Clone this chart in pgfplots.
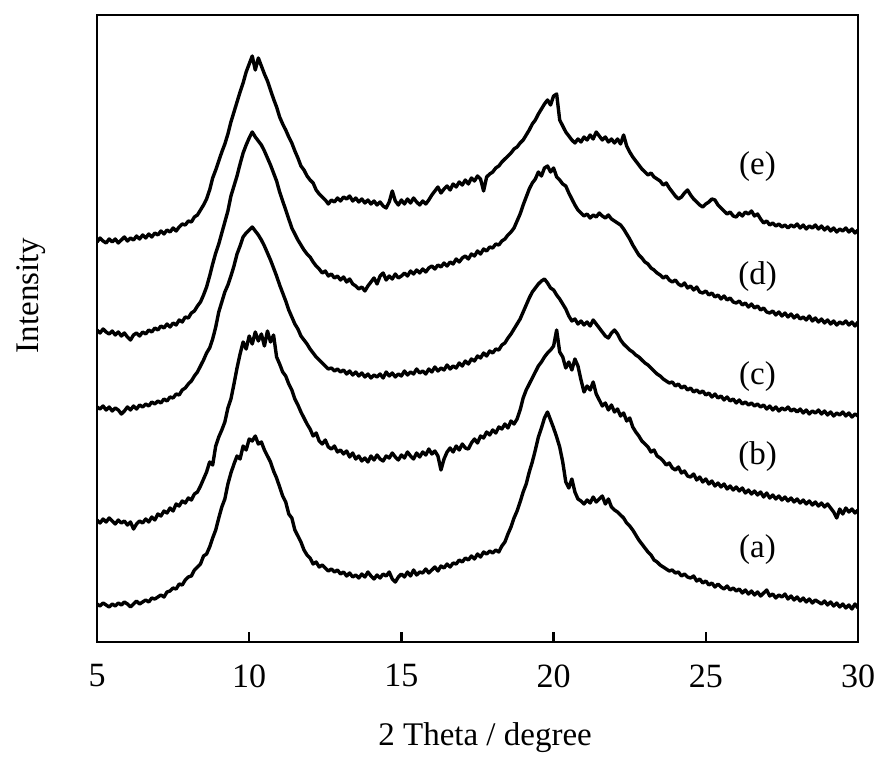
\documentclass[border=0pt]{standalone}
\usepackage{fontspec}
\setmainfont{Liberation Serif}
\usepackage{pgfplots}
\pgfplotsset{compat=1.18}
\pgfplotsset{xrd/.style={black, line width=3.4pt, line join=round, mark=none}}
\begin{document}
\fontsize{34}{40}\selectfont
\begin{tikzpicture}
\begin{axis}[
  scale only axis, width=761pt, height=627pt,
  xmin=5, xmax=30, ymin=0, ymax=627,
  xtick={5,10,15,20,25,30}, ytick=\empty,
  xtick pos=bottom, tick align=inside, major tick length=10pt,
  axis line style={line width=2.5pt},
  every tick/.style={line width=2.5pt, black},
  /pgf/number format/assume math mode=true,
  xticklabel style={font=\fontsize{34}{40}\selectfont, yshift=-11pt},
  xlabel={2 Theta / degree},
  ylabel={Intensity},
  xlabel style={font=\fontsize{33}{40}\selectfont, at={(axis description cs:0.51,-0.153)}, anchor=center},
  ylabel style={font=\fontsize{33}{40}\selectfont, at={(axis description cs:-0.087,0.553)}, anchor=center},
]
% (a)
\addplot[xrd] coordinates {(5.0,38)(5.1,36)(5.2,39)(5.3,37)(5.4,35)(5.5,38)(5.6,36)(5.7,39)(5.8,37)(5.9,40)
(6.0,38)(6.1,35)(6.2,38)(6.3,41)(6.4,38)(6.5,40)(6.6,42)(6.7,40)(6.8,44)(6.9,43)
(7.0,45)(7.1,47)(7.2,45)(7.3,50)(7.4,51)(7.5,54)(7.6,53)(7.7,58)(7.8,57)(7.9,62)
(8.0,65)(8.1,66)(8.2,72)(8.3,75)(8.4,78)(8.5,86)(8.6,88)(8.7,95)(8.8,104)(8.9,112)
(9.0,124)(9.1,135)(9.2,143)(9.3,158)(9.4,169)(9.5,178)(9.6,186)(9.7,183)(9.8,196)(9.9,192)
(10.0,203)(10.1,201)(10.2,206)(10.3,198)(10.4,200)(10.5,192)(10.6,186)(10.7,180)(10.8,171)(10.9,164)
(11.0,155)(11.1,146)(11.2,140)(11.3,128)(11.4,124)(11.5,112)(11.6,106)(11.7,100)(11.8,92)(11.9,87)
(12.0,84)(12.1,78)(12.2,80)(12.3,75)(12.4,77)(12.5,74)(12.6,71)(12.7,73)(12.8,70)(12.9,72)
(13.0,68)(13.1,70)(13.2,66)(13.3,69)(13.4,65)(13.5,67)(13.6,64)(13.7,68)(13.8,65)(13.9,70)
(14.0,66)(14.1,63)(14.2,67)(14.3,64)(14.4,68)(14.5,66)(14.6,70)(14.7,63)(14.8,60)(14.9,65)
(15.0,68)(15.1,65)(15.2,70)(15.3,66)(15.4,72)(15.5,67)(15.6,70)(15.7,69)(15.8,73)(15.9,69)
(16.0,72)(16.1,75)(16.2,71)(16.3,76)(16.4,74)(16.5,78)(16.6,75)(16.7,79)(16.8,78)(16.9,82)
(17.0,80)(17.1,84)(17.2,82)(17.3,86)(17.4,83)(17.5,88)(17.6,85)(17.7,90)(17.8,88)(17.9,91)
(18.0,89)(18.1,92)(18.2,90)(18.3,96)(18.4,100)(18.5,108)(18.6,115)(18.7,124)(18.8,131)(18.9,140)
(19.0,150)(19.1,158)(19.2,170)(19.3,180)(19.4,192)(19.5,205)(19.6,214)(19.7,224)(19.8,230)(19.9,222)
(20.0,214)(20.1,205)(20.2,195)(20.3,180)(20.4,160)(20.5,154)(20.6,163)(20.7,150)(20.8,143)(20.9,141)
(21.0,138)(21.1,142)(21.2,139)(21.3,145)(21.4,140)(21.5,143)(21.6,146)(21.7,138)(21.8,143)(21.9,135)
(22.0,132)(22.1,130)(22.2,127)(22.3,124)(22.4,119)(22.5,116)(22.6,112)(22.7,107)(22.8,102)(22.9,98)
(23.0,94)(23.1,90)(23.2,87)(23.3,82)(23.4,80)(23.5,77)(23.6,75)(23.7,73)(23.8,71)(23.9,72)
(24.0,69)(24.1,70)(24.2,66)(24.3,68)(24.4,65)(24.5,64)(24.6,66)(24.7,61)(24.8,63)(24.9,59)
(25.0,61)(25.1,57)(25.2,59)(25.3,55)(25.4,58)(25.5,55)(25.6,53)(25.7,56)(25.8,52)(25.9,54)
(26.0,51)(26.1,53)(26.2,49)(26.3,52)(26.4,48)(26.5,51)(26.6,47)(26.7,50)(26.8,46)(26.9,49)
(27.0,52)(27.1,46)(27.2,48)(27.3,44)(27.4,47)(27.5,45)(27.6,48)(27.7,43)(27.8,46)(27.9,42)
(28.0,45)(28.1,41)(28.2,44)(28.3,40)(28.4,43)(28.5,39)(28.6,42)(28.7,40)(28.8,38)(28.9,41)
(29.0,37)(29.1,40)(29.2,36)(29.3,39)(29.4,35)(29.5,38)(29.6,34)(29.7,37)(29.8,33)(29.9,38)(30.0,34)};
% (b)
\addplot[xrd] coordinates {(5.0,122)(5.1,119)(5.2,123)(5.3,120)(5.4,124)(5.5,121)(5.6,118)(5.7,122)(5.8,119)(5.9,121)
(6.0,117)(6.1,120)(6.2,113)(6.3,118)(6.4,121)(6.5,119)(6.6,123)(6.7,120)(6.8,125)(6.9,122)
(7.0,128)(7.1,126)(7.2,131)(7.3,129)(7.4,134)(7.5,131)(7.6,138)(7.7,136)(7.8,141)(7.9,139)
(8.0,144)(8.1,142)(8.2,148)(8.3,150)(8.4,156)(8.5,163)(8.6,170)(8.7,180)(8.8,177)(8.9,196)
(9.0,205)(9.1,212)(9.2,220)(9.3,234)(9.4,243)(9.5,258)(9.6,274)(9.7,288)(9.8,300)(9.9,293)
(10.0,306)(10.1,298)(10.2,310)(10.3,301)(10.4,308)(10.5,296)(10.6,311)(10.7,300)(10.8,307)(10.9,285)
(11.0,278)(11.1,270)(11.2,266)(11.3,258)(11.4,252)(11.5,243)(11.6,237)(11.7,230)(11.8,224)(11.9,218)
(12.0,213)(12.1,206)(12.2,209)(12.3,201)(12.4,198)(12.5,202)(12.6,195)(12.7,193)(12.8,196)(12.9,190)
(13.0,192)(13.1,188)(13.2,191)(13.3,185)(13.4,189)(13.5,183)(13.6,186)(13.7,181)(13.8,184)(13.9,180)
(14.0,186)(14.1,182)(14.2,187)(14.3,183)(14.4,181)(14.5,186)(14.6,184)(14.7,189)(14.8,185)(14.9,182)
(15.0,187)(15.1,184)(15.2,190)(15.3,186)(15.4,183)(15.5,189)(15.6,185)(15.7,190)(15.8,187)(15.9,193)
(16.0,188)(16.1,191)(16.2,186)(16.3,172)(16.4,183)(16.5,190)(16.6,194)(16.7,190)(16.8,196)(16.9,192)
(17.0,198)(17.1,194)(17.2,193)(17.3,199)(17.4,203)(17.5,199)(17.6,206)(17.7,204)(17.8,210)(17.9,207)
(18.0,212)(18.1,209)(18.2,215)(18.3,213)(18.4,218)(18.5,214)(18.6,221)(18.7,218)(18.8,223)(18.9,232)
(19.0,244)(19.1,252)(19.2,258)(19.3,264)(19.4,270)(19.5,276)(19.6,280)(19.7,285)(19.8,289)(19.9,292)
(20.0,296)(20.1,312)(20.2,290)(20.3,285)(20.4,274)(20.5,280)(20.6,272)(20.7,283)(20.8,276)(20.9,262)
(21.0,250)(21.1,256)(21.2,252)(21.3,260)(21.4,248)(21.5,242)(21.6,236)(21.7,239)(21.8,232)(21.9,237)
(22.0,230)(22.1,233)(22.2,226)(22.3,229)(22.4,221)(22.5,224)(22.6,215)(22.7,210)(22.8,206)(22.9,201)
(23.0,198)(23.1,195)(23.2,190)(23.3,192)(23.4,186)(23.5,184)(23.6,181)(23.7,177)(23.8,179)(23.9,174)
(24.0,172)(24.1,175)(24.2,169)(24.3,171)(24.4,166)(24.5,165)(24.6,168)(24.7,162)(24.8,165)(24.9,160)
(25.0,163)(25.1,158)(25.2,161)(25.3,156)(25.4,159)(25.5,155)(25.6,158)(25.7,153)(25.8,156)(25.9,152)
(26.0,155)(26.1,151)(26.2,154)(26.3,149)(26.4,152)(26.5,148)(26.6,151)(26.7,147)(26.8,150)(26.9,145)
(27.0,149)(27.1,144)(27.2,147)(27.3,143)(27.4,146)(27.5,142)(27.6,145)(27.7,141)(27.8,144)(27.9,140)
(28.0,143)(28.1,139)(28.2,142)(28.3,138)(28.4,141)(28.5,137)(28.6,140)(28.7,136)(28.8,139)(28.9,135)
(29.0,138)(29.1,134)(29.2,130)(29.3,124)(29.4,133)(29.5,128)(29.6,134)(29.7,130)(29.8,133)(29.9,129)(30.0,132)};
% (c)
\addplot[xrd] coordinates {(5.0,235)(5.1,233)(5.2,236)(5.3,232)(5.4,235)(5.5,231)(5.6,234)(5.7,232)(5.8,228)(5.9,231)
(6.0,235)(6.1,232)(6.2,236)(6.3,233)(6.4,237)(6.5,235)(6.6,238)(6.7,236)(6.8,240)(6.9,238)
(7.0,241)(7.1,239)(7.2,243)(7.3,241)(7.4,245)(7.5,244)(7.6,248)(7.7,247)(7.8,252)(7.9,254)
(8.0,258)(8.1,261)(8.2,266)(8.3,270)(8.4,276)(8.5,282)(8.6,289)(8.7,294)(8.8,303)(8.9,315)
(9.0,330)(9.1,340)(9.2,350)(9.3,357)(9.4,366)(9.5,376)(9.6,388)(9.7,396)(9.8,405)(9.9,409)
(10.0,412)(10.1,415)(10.2,411)(10.3,407)(10.4,402)(10.5,396)(10.6,389)(10.7,382)(10.8,374)(10.9,366)
(11.0,357)(11.1,349)(11.2,341)(11.3,332)(11.4,325)(11.5,318)(11.6,313)(11.7,306)(11.8,302)(11.9,298)
(12.0,293)(12.1,289)(12.2,285)(12.3,282)(12.4,279)(12.5,276)(12.6,273)(12.7,274)(12.8,271)(12.9,273)
(13.0,270)(13.1,272)(13.2,268)(13.3,271)(13.4,267)(13.5,270)(13.6,266)(13.7,269)(13.8,265)(13.9,268)
(14.0,264)(14.1,267)(14.2,265)(14.3,268)(14.4,264)(14.5,270)(14.6,266)(14.7,269)(14.8,265)(14.9,268)
(15.0,266)(15.1,271)(15.2,267)(15.3,270)(15.4,268)(15.5,273)(15.6,269)(15.7,271)(15.8,268)(15.9,273)
(16.0,270)(16.1,275)(16.2,271)(16.3,274)(16.4,272)(16.5,277)(16.6,273)(16.7,276)(16.8,274)(16.9,279)
(17.0,276)(17.1,281)(17.2,278)(17.3,283)(17.4,281)(17.5,286)(17.6,284)(17.7,289)(17.8,286)(17.9,291)
(18.0,289)(18.1,293)(18.2,292)(18.3,297)(18.4,299)(18.5,304)(18.6,308)(18.7,313)(18.8,318)(18.9,323)
(19.0,330)(19.1,337)(19.2,344)(19.3,350)(19.4,354)(19.5,358)(19.6,361)(19.7,363)(19.8,359)(19.9,354)
(20.0,352)(20.1,347)(20.2,343)(20.3,338)(20.4,333)(20.5,326)(20.6,321)(20.7,323)(20.8,318)(20.9,321)
(21.0,317)(21.1,320)(21.2,316)(21.3,322)(21.4,318)(21.5,314)(21.6,310)(21.7,306)(21.8,304)(21.9,309)
(22.0,312)(22.1,308)(22.2,302)(22.3,298)(22.4,295)(22.5,292)(22.6,290)(22.7,287)(22.8,285)(22.9,282)
(23.0,279)(23.1,277)(23.2,274)(23.3,271)(23.4,268)(23.5,266)(23.6,263)(23.7,261)(23.8,259)(23.9,260)
(24.0,256)(24.1,258)(24.2,254)(24.3,256)(24.4,252)(24.5,254)(24.6,250)(24.7,252)(24.8,249)(24.9,251)
(25.0,247)(25.1,249)(25.2,245)(25.3,248)(25.4,244)(25.5,246)(25.6,242)(25.7,245)(25.8,241)(25.9,243)
(26.0,239)(26.1,242)(26.2,238)(26.3,240)(26.4,237)(26.5,239)(26.6,236)(26.7,238)(26.8,235)(26.9,237)
(27.0,233)(27.1,236)(27.2,232)(27.3,235)(27.4,231)(27.5,234)(27.6,232)(27.7,235)(27.8,231)(27.9,233)
(28.0,230)(28.1,233)(28.2,229)(28.3,232)(28.4,228)(28.5,231)(28.6,229)(28.7,232)(28.8,228)(28.9,231)
(29.0,227)(29.1,230)(29.2,226)(29.3,229)(29.4,227)(29.5,230)(29.6,226)(29.7,229)(29.8,225)(29.9,228)(30.0,226)};
% (d)
\addplot[xrd] coordinates {(5.0,312)(5.1,309)(5.2,313)(5.3,310)(5.4,308)(5.5,311)(5.6,307)(5.7,310)(5.8,306)(5.9,309)
(6.0,305)(6.1,302)(6.2,307)(6.3,309)(6.4,306)(6.5,310)(6.6,308)(6.7,312)(6.8,310)(6.9,314)
(7.0,312)(7.1,316)(7.2,314)(7.3,318)(7.4,315)(7.5,319)(7.6,317)(7.7,322)(7.8,320)(7.9,325)
(8.0,324)(8.1,329)(8.2,331)(8.3,336)(8.4,340)(8.5,347)(8.6,355)(8.7,366)(8.8,378)(8.9,389)
(9.0,398)(9.1,409)(9.2,420)(9.3,431)(9.4,446)(9.5,456)(9.6,466)(9.7,478)(9.8,489)(9.9,497)
(10.0,504)(10.1,510)(10.2,505)(10.3,501)(10.4,497)(10.5,491)(10.6,484)(10.7,477)(10.8,469)(10.9,461)
(11.0,450)(11.1,441)(11.2,432)(11.3,423)(11.4,414)(11.5,408)(11.6,402)(11.7,397)(11.8,392)(11.9,388)
(12.0,385)(12.1,380)(12.2,376)(12.3,373)(12.4,369)(12.5,371)(12.6,366)(12.7,368)(12.8,364)(12.9,366)
(13.0,362)(13.1,365)(13.2,360)(13.3,363)(13.4,358)(13.5,356)(13.6,353)(13.7,355)(13.8,351)(13.9,356)
(14.0,360)(14.1,364)(14.2,358)(14.3,366)(14.4,369)(14.5,362)(14.6,366)(14.7,363)(14.8,368)(14.9,364)
(15.0,366)(15.1,369)(15.2,366)(15.3,371)(15.4,368)(15.5,372)(15.6,369)(15.7,373)(15.8,370)(15.9,374)
(16.0,376)(16.1,373)(16.2,377)(16.3,375)(16.4,379)(16.5,376)(16.6,380)(16.7,378)(16.8,383)(16.9,380)
(17.0,384)(17.1,386)(17.2,383)(17.3,388)(17.4,386)(17.5,391)(17.6,388)(17.7,393)(17.8,391)(17.9,395)
(18.0,394)(18.1,398)(18.2,397)(18.3,401)(18.4,403)(18.5,407)(18.6,410)(18.7,414)(18.8,421)(18.9,428)
(19.0,437)(19.1,445)(19.2,453)(19.3,459)(19.4,463)(19.5,470)(19.6,466)(19.7,474)(19.8,476)(19.9,470)
(20.0,474)(20.1,465)(20.2,462)(20.3,458)(20.4,456)(20.5,449)(20.6,443)(20.7,437)(20.8,432)(20.9,429)
(21.0,426)(21.1,428)(21.2,424)(21.3,427)(21.4,425)(21.5,429)(21.6,426)(21.7,424)(21.8,427)(21.9,423)
(22.0,421)(22.1,419)(22.2,417)(22.3,413)(22.4,408)(22.5,403)(22.6,397)(22.7,392)(22.8,387)(22.9,384)
(23.0,380)(23.1,378)(23.2,374)(23.3,372)(23.4,369)(23.5,367)(23.6,364)(23.7,366)(23.8,362)(23.9,360)
(24.0,362)(24.1,358)(24.2,356)(24.3,359)(24.4,354)(24.5,356)(24.6,352)(24.7,355)(24.8,350)(24.9,349)
(25.0,351)(25.1,347)(25.2,349)(25.3,345)(25.4,347)(25.5,343)(25.6,346)(25.7,342)(25.8,344)(25.9,340)
(26.0,339)(26.1,341)(26.2,337)(26.3,339)(26.4,335)(26.5,338)(26.6,334)(26.7,336)(26.8,332)(26.9,334)
(27.0,330)(27.1,329)(27.2,331)(27.3,327)(27.4,330)(27.5,326)(27.6,329)(27.7,325)(27.8,328)(27.9,324)
(28.0,327)(28.1,323)(28.2,325)(28.3,322)(28.4,326)(28.5,321)(28.6,324)(28.7,320)(28.8,323)(28.9,319)
(29.0,322)(29.1,318)(29.2,321)(29.3,317)(29.4,320)(29.5,318)(29.6,321)(29.7,317)(29.8,320)(29.9,316)(30.0,320)};
% (e)
\addplot[xrd] coordinates {(5.0,400)(5.1,404)(5.2,401)(5.3,399)(5.4,403)(5.5,400)(5.6,403)(5.7,399)(5.8,402)(5.9,405)
(6.0,401)(6.1,404)(6.2,402)(6.3,406)(6.4,403)(6.5,407)(6.6,404)(6.7,408)(6.8,405)(6.9,409)
(7.0,407)(7.1,411)(7.2,408)(7.3,412)(7.4,410)(7.5,414)(7.6,411)(7.7,415)(7.8,418)(7.9,417)
(8.0,421)(8.1,420)(8.2,425)(8.3,427)(8.4,432)(8.5,437)(8.6,443)(8.7,452)(8.8,464)(8.9,472)
(9.0,481)(9.1,490)(9.2,498)(9.3,508)(9.4,520)(9.5,530)(9.6,540)(9.7,550)(9.8,559)(9.9,570)
(10.0,578)(10.1,586)(10.2,572)(10.3,584)(10.4,576)(10.5,568)(10.6,561)(10.7,552)(10.8,543)(10.9,535)
(11.0,525)(11.1,518)(11.2,512)(11.3,505)(11.4,499)(11.5,491)(11.6,484)(11.7,476)(11.8,472)(11.9,466)
(12.0,462)(12.1,459)(12.2,452)(12.3,448)(12.4,445)(12.5,442)(12.6,438)(12.7,442)(12.8,440)(12.9,444)
(13.0,441)(13.1,445)(13.2,443)(13.3,446)(13.4,441)(13.5,444)(13.6,440)(13.7,443)(13.8,439)(13.9,442)
(14.0,438)(14.1,441)(14.2,437)(14.3,440)(14.4,436)(14.5,434)(14.6,440)(14.7,451)(14.8,441)(14.9,437)
(15.0,442)(15.1,438)(15.2,443)(15.3,439)(15.4,444)(15.5,440)(15.6,437)(15.7,441)(15.8,438)(15.9,442)
(16.0,447)(16.1,451)(16.2,455)(16.3,449)(16.4,453)(16.5,456)(16.6,452)(16.7,458)(16.8,455)(16.9,460)
(17.0,457)(17.1,462)(17.2,458)(17.3,464)(17.4,461)(17.5,466)(17.6,463)(17.7,451)(17.8,465)(17.9,468)
(18.0,470)(18.1,474)(18.2,476)(18.3,480)(18.4,483)(18.5,486)(18.6,489)(18.7,493)(18.8,495)(18.9,499)
(19.0,502)(19.1,507)(19.2,512)(19.3,518)(19.4,522)(19.5,528)(19.6,533)(19.7,538)(19.8,542)(19.9,537)
(20.0,546)(20.1,548)(20.2,522)(20.3,516)(20.4,510)(20.5,506)(20.6,502)(20.7,499)(20.8,503)(20.9,500)
(21.0,505)(21.1,502)(21.2,507)(21.3,503)(21.4,510)(21.5,506)(21.6,502)(21.7,505)(21.8,500)(21.9,503)
(22.0,499)(22.1,503)(22.2,498)(22.3,507)(22.4,496)(22.5,490)(22.6,485)(22.7,481)(22.8,477)(22.9,473)
(23.0,470)(23.1,467)(23.2,469)(23.3,465)(23.4,463)(23.5,461)(23.6,457)(23.7,459)(23.8,454)(23.9,450)
(24.0,446)(24.1,443)(24.2,445)(24.3,449)(24.4,452)(24.5,447)(24.6,443)(24.7,440)(24.8,437)(24.9,435)
(25.0,438)(25.1,440)(25.2,443)(25.3,442)(25.4,437)(25.5,434)(25.6,431)(25.7,428)(25.8,430)(25.9,426)
(26.0,425)(26.1,429)(26.2,426)(26.3,430)(26.4,428)(26.5,431)(26.6,426)(26.7,428)(26.8,423)(26.9,419)
(27.0,421)(27.1,417)(27.2,419)(27.3,416)(27.4,418)(27.5,415)(27.6,417)(27.7,414)(27.8,417)(27.9,415)
(28.0,418)(28.1,414)(28.2,417)(28.3,413)(28.4,416)(28.5,414)(28.6,417)(28.7,413)(28.8,416)(28.9,412)
(29.0,415)(29.1,411)(29.2,414)(29.3,410)(29.4,413)(29.5,411)(29.6,414)(29.7,410)(29.8,413)(29.9,409)(30.0,412)};
\node[font=\fontsize{33}{40}\selectfont] at (axis cs:26.7,475) {(e)};
\node[font=\fontsize{33}{40}\selectfont] at (axis cs:26.7,365) {(d)};
\node[font=\fontsize{33}{40}\selectfont] at (axis cs:26.7,265) {(c)};
\node[font=\fontsize{33}{40}\selectfont] at (axis cs:26.7,185) {(b)};
\node[font=\fontsize{33}{40}\selectfont] at (axis cs:26.7,92) {(a)};
\coordinate (bl) at (rel axis cs:0,0);
\coordinate (tr) at (rel axis cs:1,1);
\end{axis}
\pgfresetboundingbox
\path[use as bounding box] ([xshift=-97pt,yshift=-120pt]bl) rectangle ([xshift=32pt,yshift=15pt]tr);
\end{tikzpicture}
\end{document}
